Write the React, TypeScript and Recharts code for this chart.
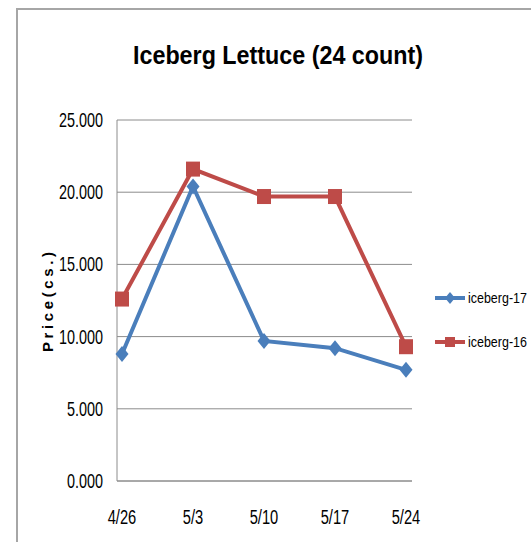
import React from 'react';
import { LineChart, Line, XAxis, YAxis, CartesianGrid, Legend } from 'recharts';

const weeks = ['4/26', '5/3', '5/10', '5/17', '5/24'];
const iceberg17 = [8.8, 20.4, 9.7, 9.2, 7.7];
const iceberg16 = [12.6, 21.6, 19.7, 19.7, 9.3];
const yTicks = [0, 5, 10, 15, 20, 25];

const data = weeks.map((week, i) => ({
  week,
  'iceberg-17': iceberg17[i],
  'iceberg-16': iceberg16[i],
}));

const BLUE = '#4a7ebb';
const RED = '#be4b48';
const FONT = '"Liberation Sans", Arial, sans-serif';

// the original uses a narrow font (Calibri), so squeeze the text sideways
const XTick = (props: any) => {
  const { x, y, payload } = props;
  return (
    <text transform={`translate(${x},${y + 35}) scale(0.7,1)`} textAnchor="middle" fontSize={21} fontFamily={FONT} fill="#000">
      {payload.value}
    </text>
  );
};

const YTick = (props: any) => {
  const { x, y, payload } = props;
  return (
    <text
      transform={`translate(${x - 6},${y + 7}) scale(0.72,1)`}
      textAnchor="end"
      fontSize={20}
      fontFamily={FONT}
      fill="#000"
    >
      {Number(payload.value).toFixed(3)}
    </text>
  );
};

const Diamond = (props: any) => {
  const { cx, cy } = props;
  if (cx == null || cy == null) return null;
  return <path d={`M${cx},${cy - 8}L${cx + 6.5},${cy}L${cx},${cy + 8}L${cx - 6.5},${cy}Z`} fill={BLUE} />;
};

const Square = (props: any) => {
  const { cx, cy } = props;
  if (cx == null || cy == null) return null;
  return <rect x={cx - 7} y={cy - 7.5} width={14} height={15} fill={RED} />;
};

const LegendBox = () => {
  const items = [
    { name: 'iceberg-17', color: BLUE, shape: 'diamond' },
    { name: 'iceberg-16', color: RED, shape: 'square' },
  ];
  return (
    <svg width={110} height={70}>
      {items.map((it, i) => {
        const y = 12 + i * 44;
        return (
          <g key={it.name}>
            <line x1={2} x2={32} y1={y} y2={y} stroke={it.color} strokeWidth={4} />
            {it.shape === 'diamond' ? (
              <path d={`M17,${y - 6}L22,${y}L17,${y + 6}L12,${y}Z`} fill={it.color} />
            ) : (
              <rect x={12} y={y - 5} width={10} height={10} fill={it.color} />
            )}
            <text transform={`translate(35,${y + 5}) scale(0.86,1)`} fontSize={14.5} fontFamily={FONT} fill="#000">
              {it.name}
            </text>
          </g>
        );
      })}
    </svg>
  );
};

export default function App() {
  return (
    <div style={{ position: 'fixed', left: 0, top: 0, width: 531, height: 542, background: '#fff' }}>
      <div
        style={{
          position: 'absolute',
          left: 16,
          top: 8,
          right: 0,
          bottom: 0,
          borderTop: '2px solid #a6a6a6',
          borderLeft: '2px solid #a6a6a6',
        }}
      />
      <div style={{ position: 'absolute', left: 0, top: 0 }}>
        <LineChart width={531} height={542} data={data} margin={{ top: 120, right: 119, bottom: 31, left: 0 }}>
          <text
            x={278}
            y={64}
            textAnchor="middle"
            fontFamily={FONT}
            fontWeight="bold"
            fontSize={26}
            textLength={290}
            lengthAdjust="spacingAndGlyphs"
            fill="#000"
          >
            Iceberg Lettuce (24 count)
          </text>
          <text
            transform="translate(53,302) rotate(-90)"
            textAnchor="middle"
            fontFamily={FONT}
            fontWeight="bold"
            fontSize={15}
            textLength={100}
            lengthAdjust="spacing"
            fill="#000"
          >
            Price(cs.)
          </text>
          <CartesianGrid vertical={false} stroke="#8c8c8c" strokeWidth={1} />
          <XAxis
            dataKey="week"
            padding={{ left: 5, right: 6 }}
            axisLine={{ stroke: '#8c8c8c' }}
            tickLine={false}
            tick={<XTick />}
          />
          <YAxis
            width={117}
            domain={[0, 25]}
            ticks={yTicks}
            interval={0}
            axisLine={{ stroke: '#8c8c8c' }}
            tickLine={false}
            tick={<YTick />}
          />
          <Legend
            layout="vertical"
            align="center"
            verticalAlign="middle"
            content={() => <LegendBox />}
            wrapperStyle={{ position: 'absolute', left: 433, top: 286, width: 110 }}
          />
          <Line
            type="linear"
            dataKey="iceberg-17"
            stroke={BLUE}
            strokeWidth={4}
            dot={<Diamond />}
            activeDot={false}
            isAnimationActive={false}
          />
          <Line
            type="linear"
            dataKey="iceberg-16"
            stroke={RED}
            strokeWidth={4}
            dot={<Square />}
            activeDot={false}
            isAnimationActive={false}
          />
        </LineChart>
      </div>
    </div>
  );
}
